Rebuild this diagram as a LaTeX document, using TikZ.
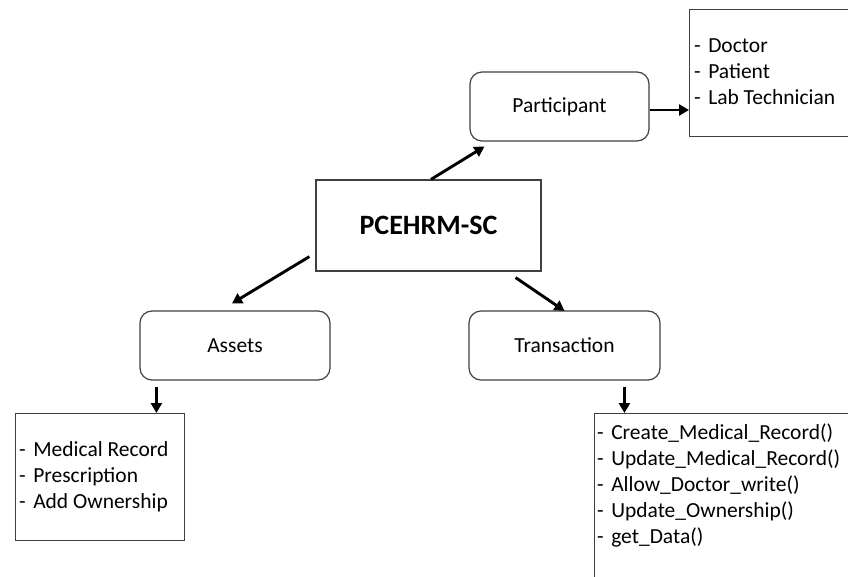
\documentclass[tikz,border=0pt]{standalone}
\usepackage{fontspec}
\setmainfont{Carlito}
\usetikzlibrary{arrows.meta,calc}
\definecolor{boxgray}{HTML}{404040}
\newcommand{\itemdash}{-\hspace{7.5pt}}
\begin{document}
\begin{tikzpicture}[x=1pt,y=-1pt,
  txt/.style={font=\fontsize{21.5}{26}\selectfont, text=black},
  rbox/.style={txt, draw=boxgray, line width=1.2pt, rounded corners=12pt, minimum width=180pt, minimum height=69pt},
  sbox/.style={draw=boxgray, line width=1.2pt, font=\bfseries\fontsize{28}{34}\selectfont},
  lbox/.style={draw=boxgray, line width=1.2pt, anchor=north west},
  ltext/.style={txt, anchor=west, align=left, inner sep=0pt},
  arr/.style={line width=2.9pt, draw=black, -{Triangle[length=10pt,width=11pt]}}]
\useasboundingbox (0,0) rectangle (848,577);
\clip (0,0) rectangle (848,577);
\fill[white] (0,0) rectangle (848,577);
% nodes
\node[rbox, minimum width=179pt] (part) at (559.5,106.5) {Participant};
\node[sbox, minimum width=225pt, minimum height=91pt] (pc) at (428.5,225.5) {PCEHRM-SC};
\node[rbox, minimum width=190pt] (as) at (235,345.5) {Assets};
\node[rbox, minimum width=191pt] (tr) at (564.5,345.5) {Transaction};
\node[lbox, minimum width=190pt, minimum height=127pt] (pl) at (689,9) {};
\node[ltext] (pt) at ($(pl.west)+(5,-1)$) {\itemdash Doctor\\\itemdash Patient\\\itemdash Lab Technician};
\node[lbox, minimum width=169pt, minimum height=127pt] (al) at (15,413) {};
\node[ltext] (at) at ($(al.west)+(4,0)$) {\itemdash Medical Record\\\itemdash Prescription\\\itemdash Add Ownership};
\node[lbox, minimum width=280pt, minimum height=200pt] (tl) at (594,413) {};
\node[txt, anchor=north west, align=left, inner sep=0pt] (tt) at ($(tl.north west)+(3,11)$) {\itemdash Create\_Medical\_Record()\\\itemdash Update\_Medical\_Record()\\\itemdash Allow\_Doctor\_write()\\\itemdash Update\_Ownership()\\\itemdash get\_Data()};
% connectors
\coordinate (pe) at ($(part.east)+(0,3.5)$);
\draw[arr] (pe) -- (pe -| pl.west);
\draw[arr] ($(pc.north)+(2.5,0)$) -- ($(part.south west)+(15,5)$);
\draw[arr] ($(pc.south west)+(-6,-15)$) -- ($(as.north)+(-3,-7)$);
\draw[arr] ($(pc.south east)+(-26,6)$) -- ($(tr.north)+(0,0.5)$);
\coordinate (asd) at ($(as.south west)+(17,6)$);
\draw[arr] (asd) -- (asd |- al.north);
\coordinate (trd) at ($(tr.south west)+(156,6)$);
\draw[arr] (trd) -- (trd |- tl.north);
\end{tikzpicture}
\end{document}
